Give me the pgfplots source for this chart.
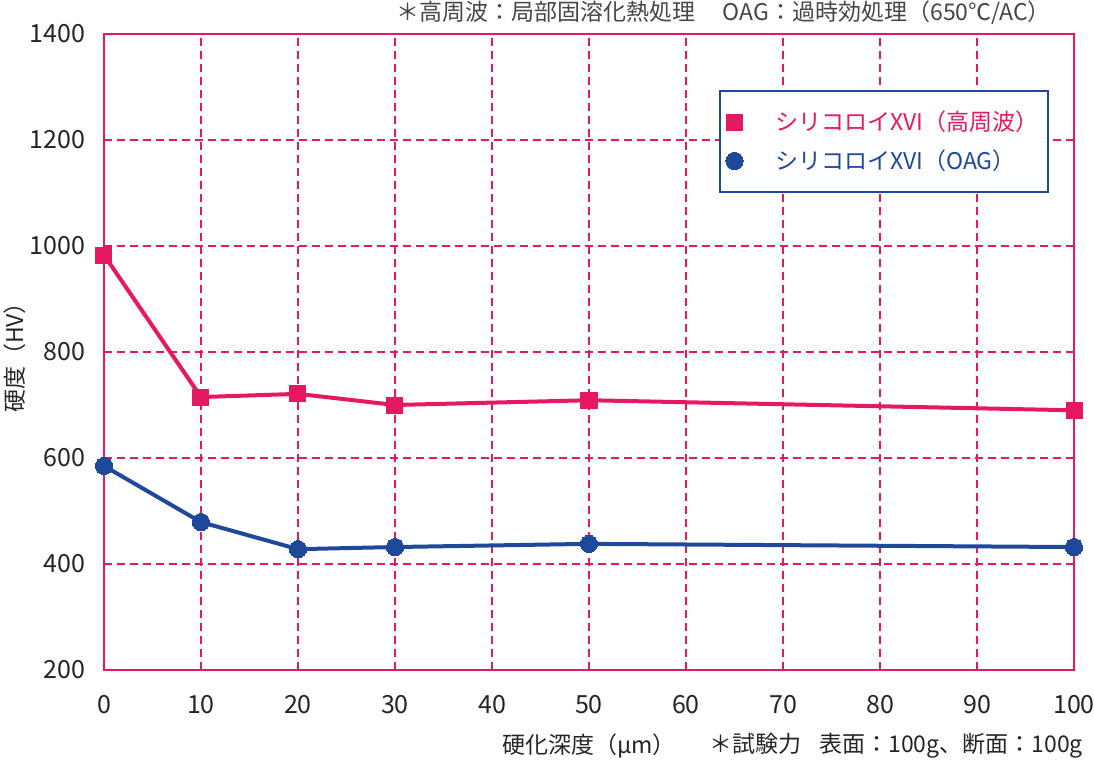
\documentclass[border=0pt]{standalone}
\usepackage{fontspec}
\setmainfont{Noto Sans CJK JP}
\usepackage{pgfplots}
\pgfplotsset{compat=1.18}
\definecolor{cpink}{RGB}{230,24,98}
\definecolor{cblue}{RGB}{30,72,156}
\definecolor{ctext}{RGB}{40,36,36}
\begin{document}
\begin{tikzpicture}
\begin{axis}[name=ax,
  scale only axis, width=485pt, height=318pt,
  xmin=0, xmax=100, ymin=200, ymax=1400,
  xtick={0,10,...,100}, ytick={200,400,...,1400},
  /pgf/number format/assume math mode=true,
  /pgf/number format/1000 sep={},
  tick style={draw=none},
  ticklabel style={font=\fontsize{12.5}{14}\selectfont, text=ctext},
  xticklabel style={yshift=-9pt},
  yticklabel style={xshift=-6pt},
  axis line style={draw=cpink, line width=1.3pt},
  grid=major,
  major grid style={draw=cpink, line width=0.75pt, dash pattern=on 4pt off 2.5pt},
  xlabel={硬化深度（μm）},
  xlabel style={font=\fontsize{11.5}{13}\selectfont, text=ctext, yshift=-3.5pt},
  ylabel={硬度（HV）},
  ylabel style={font=\fontsize{11.5}{13}\selectfont, text=ctext, yshift=-5pt},
  legend style={at={(rel axis cs:0.634,0.912)}, anchor=north west, draw=cblue, line width=1pt,
    font=\fontsize{11.5}{13}\selectfont, inner xsep=3pt, inner ysep=8pt, row sep=4pt,
    /tikz/every even column/.append style={column sep=0pt}},
  legend cell align=left,
  legend image code/.code={\draw[#1, draw=none] plot coordinates {(0.3cm,0cm)};},
]
\addplot[cpink, line width=2pt, mark=square*, mark size=4pt, mark options={fill=cpink, draw=cpink, line width=0pt}]
  coordinates {(0,983) (10,715) (20,721) (30,700) (50,709) (100,690)};
\addlegendentry{\hspace{14pt}\textcolor{cpink}{シリコロイXVI（高周波）}}
\addplot[cblue, line width=2pt, mark=*, mark size=4.3pt, mark options={fill=cblue, draw=cblue, line width=0pt}]
  coordinates {(0,585) (10,479) (20,428) (30,432) (50,438) (100,432)};
\addlegendentry{\hspace{14pt}\textcolor{cblue}{シリコロイXVI（OAG）}}
\end{axis}
\node[anchor=base east, font=\fontsize{11.5}{13}\selectfont, text=ctext!85] at ([xshift=-8pt,yshift=7pt]ax.north east) {＊高周波：局部固溶化熱処理\hspace{1.2em}OAG：過時効処理（650℃/AC）};
\node[anchor=base east, font=\fontsize{11.5}{13}\selectfont, text=ctext] at ([xshift=8pt,yshift=-41pt]ax.south east) {＊試験力\hspace{0.8em}表面：100g、断面：100g};
\pgfresetboundingbox
\path ([xshift=-52pt,yshift=-46pt]ax.south west) rectangle ([xshift=10pt,yshift=17pt]ax.north east);
\end{tikzpicture}
\end{document}
